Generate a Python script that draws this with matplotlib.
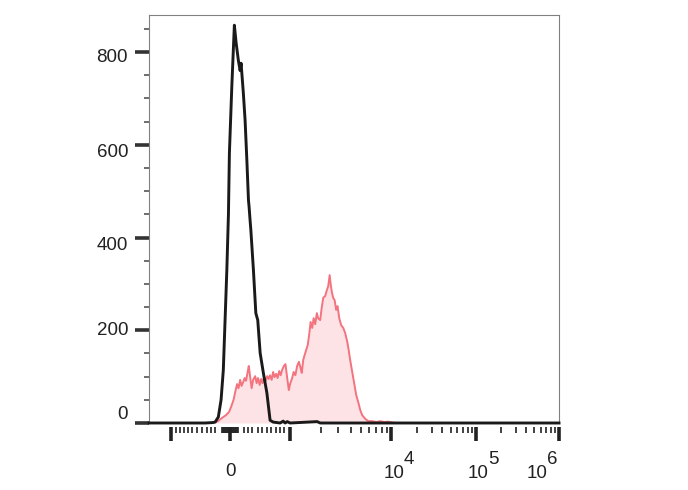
import numpy as np
import matplotlib.pyplot as plt

plt.rcParams["font.family"] = ["Liberation Sans", "DejaVu Sans"]

# x is the 256-channel display scale of the cytometer, y is events per channel
isotype_ch = [0, 35.0, 40.0, 41.3, 43.3, 45.0, 46.4, 47.5, 48.6, 49.6, 50.2, 51.7,
              53.3, 54.4, 55.8, 56.9, 57.5, 58.9, 60.0, 61.1, 62.1, 62.5, 63.1,
              63.6, 65.2, 66.7, 67.9, 69.4, 71.4, 73.6, 75.6, 77.5, 81.9, 83.8,
              85.0, 86.3, 88.1, 105.0, 106.9, 256]
isotype_count = [0, 0, 1, 2, 13, 50, 114, 222, 330, 450, 582, 725,
                 858, 820, 782, 760, 776, 712, 653, 567, 481, 466, 438,
                 416, 330, 237, 222, 151, 108, 65, 6, 2, 0, 4,
                 0, 3, 0, 3, 0, 0]

stained_ch = [0, 40.0, 43.1, 45.6, 48.1, 50.0, 51.3, 52.8, 54.1, 55.0, 55.9, 56.9,
              57.8, 58.8, 59.7, 60.6, 61.6, 62.3, 63.1, 64.1, 65.0, 66.3, 67.2,
              68.1, 69.1, 70.0, 70.9, 71.9, 72.8, 73.8, 74.7, 75.6, 76.6, 77.5,
              78.4, 79.4, 80.3, 81.3, 82.2, 83.1, 84.2, 85.2, 86.3, 87.3, 88.1,
              89.4, 90.3, 91.4, 92.5, 93.6, 94.6, 95.4, 96.3, 97.2, 98.1, 99.1,
              100.0, 100.9, 101.9, 102.8, 103.8, 104.8, 105.6, 106.9, 107.8,
              108.8, 110.0, 111.1, 111.9, 112.8, 113.4, 114.2, 115.0, 115.9,
              116.9, 117.7, 118.8, 120.0, 121.3, 122.5, 123.8, 124.7, 125.6,
              126.9, 128.1, 129.4, 130.8, 131.9, 133.1, 135.0, 136.9, 139.4,
              141.9, 144.4, 146.9, 149.4, 151.9, 154.4, 256]
stained_count = [0, 0, 4, 11, 17, 24, 35, 50, 71, 84, 75, 93,
                 80, 88, 97, 91, 110, 123, 101, 75, 93, 101, 86,
                 97, 82, 95, 86, 99, 91, 101, 95, 103, 93, 110,
                 99, 106, 97, 112, 103, 114, 123, 127, 97, 71, 84,
                 97, 110, 103, 123, 132, 119, 108, 136, 147, 157, 168,
                 190, 218, 205, 226, 213, 237, 226, 222, 248,
                 270, 274, 287, 295, 319, 300, 282, 270, 265,
                 244, 252, 226, 211, 205, 194, 175, 157, 136,
                 110, 86, 60, 43, 28, 17, 9, 4, 4,
                 2, 4, 2, 3, 1, 0, 0]

# display channel of the decade marks (-10^3, 0, 10^3, 10^4, 10^5, 10^6)
decade_values = [-1e3, 0, 1e3, 1e4, 1e5, 1e6]
decade_ch = [13.75, 50.6, 88.1, 151.3, 204.2, 256.0]
# minor marks in the linear region around zero
near_zero_minor_ch = [16.7, 19.4, 22.1, 24.6, 26.7, 29.8, 32.9, 36.1, 38.75, 41.25,
                      59.6, 62.1, 64.6, 67.9, 70.8, 73.6, 76.25, 79.4, 81.9, 84.6]
zero_cluster_ch = np.arange(45.8, 55.6, 0.6)

x_labels = [(0, "0", None, 0), (1e4, "10", "4", -8), (1e5, "10", "5", -8), (1e6, "10", "6", -32)]

y_major = [0, 200, 400, 600, 800]
y_minor = [v for v in range(50, 900, 50) if v not in y_major]
y_label_dy = [8.5, 0, -8, -8, -5]

fig = plt.figure(figsize=(6.88, 4.90), dpi=100)
ax = fig.add_axes([149 / 688, 1 - 423 / 490, 410 / 688, 408 / 490])

ax.fill_between(stained_ch, stained_count, 0, color="#fde3e5", lw=0, zorder=1)
ax.plot(stained_ch, stained_count, color="#f3737f", lw=1.4, zorder=2)
ax.plot(isotype_ch, isotype_count, color="#1a1a1a", lw=2.1, zorder=3, clip_on=False)

ax.set_xlim(0, 256)
ax.set_ylim(0, 880)

for s in ["left", "top", "right"]:
    ax.spines[s].set_color("#808080")
    ax.spines[s].set_linewidth(0.8)
ax.spines["bottom"].set_visible(False)
ax.spines["bottom"].set_position(("outward", 3))

# x ticks
x_minor = list(near_zero_minor_ch) + list(zero_cluster_ch)
for lo, hi in zip(decade_ch[2:-1], decade_ch[3:]):
    for k in range(2, 10):
        x_minor.append(lo + np.log10(k) * (hi - lo))
ax.set_xticks(decade_ch)
ax.set_xticks(x_minor, minor=True)
ax.tick_params(axis="x", which="major", direction="out", length=10, width=2.6,
               color="#222222", labelbottom=False)
ax.tick_params(axis="x", which="minor", direction="out", length=4, width=1.2,
               color="#222222")

# y ticks
ax.set_yticks(y_major)
ax.set_yticks(y_minor, minor=True)
ax.tick_params(axis="y", which="major", direction="out", length=10, width=2.6,
               color="#333333", labelleft=False)
ax.tick_params(axis="y", which="minor", direction="out", length=3.5, width=1.2,
               color="#555555")

for v, dy in zip(y_major, y_label_dy):
    ax.annotate(str(v), xy=(0, v), xycoords=("axes fraction", "data"),
                xytext=(-21, dy), textcoords="offset pixels",
                ha="right", va="center", fontsize=13.5, color="#222222")

for val, base, sup, dx in x_labels:
    ch = decade_ch[decade_values.index(val)]
    if sup is None:
        ax.annotate(base, xy=(ch, 0), xycoords=("data", "axes fraction"),
                    xytext=(0, -48), textcoords="offset pixels",
                    ha="center", va="center", fontsize=13.5, color="#222222")
    else:
        ax.annotate(base, xy=(ch, 0), xycoords=("data", "axes fraction"),
                    xytext=(dx, -50), textcoords="offset pixels",
                    ha="left", va="center", fontsize=13.5, color="#222222")
        ax.annotate(sup, xy=(ch, 0), xycoords=("data", "axes fraction"),
                    xytext=(dx + 20, -36), textcoords="offset pixels",
                    ha="left", va="center", fontsize=13.5, color="#222222")

fig.savefig("out.png", dpi=100)
